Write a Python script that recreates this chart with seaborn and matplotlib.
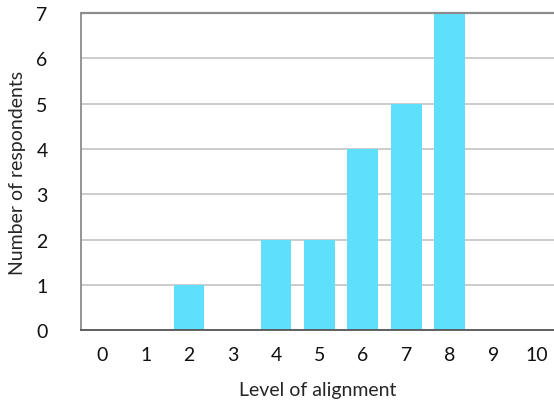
import matplotlib
matplotlib.use("Agg")
import matplotlib.pyplot as plt
import seaborn as sns
import pandas as pd

levels = [0, 1, 2, 3, 4, 5, 6, 7, 8, 9, 10]
respondents = [0, 0, 1, 0, 2, 2, 4, 5, 7, 0, 0]

sns.set_style("white")
plt.rcParams['font.family'] = ['Lato', 'DejaVu Sans']

df = pd.DataFrame({"level": levels, "n": respondents})

fig, ax = plt.subplots(figsize=(5.54, 4.06), dpi=100)
fig.subplots_adjust(left=0.146, right=1.0, top=0.966, bottom=0.184)

sns.barplot(data=df, x="level", y="n", order=levels, color="#5ee0fd",
            saturation=1, width=0.71, linewidth=0, ax=ax, zorder=3)

ax.set_xlim(-0.49, 10.4)
ax.set_ylim(0, 7)
ax.set_yticks(range(0, 8))
ax.yaxis.grid(True, color="#c8c8c8", lw=1.3, zorder=0)
ax.set_axisbelow(True)
ax.axhline(7, color="#8c8c8c", lw=1.6, zorder=4, clip_on=False)

sns.despine(ax=ax, top=True, right=True)
ax.spines['left'].set_color("#8c8c8c")
ax.spines['left'].set_linewidth(1.3)
ax.spines['bottom'].set_color("#555555")
ax.spines['bottom'].set_linewidth(1.3)
ax.spines['bottom'].set_zorder(5)

ax.tick_params(axis='both', length=0, labelsize=14, colors="#111111")
ax.tick_params(axis='y', pad=24)
ax.tick_params(axis='x', pad=11)
ax.set_xlabel("Level of alignment", fontsize=14, labelpad=13)
ax.set_ylabel("Number of respondents", fontsize=14, labelpad=7)

fig.savefig("out.png")
plt.close()
